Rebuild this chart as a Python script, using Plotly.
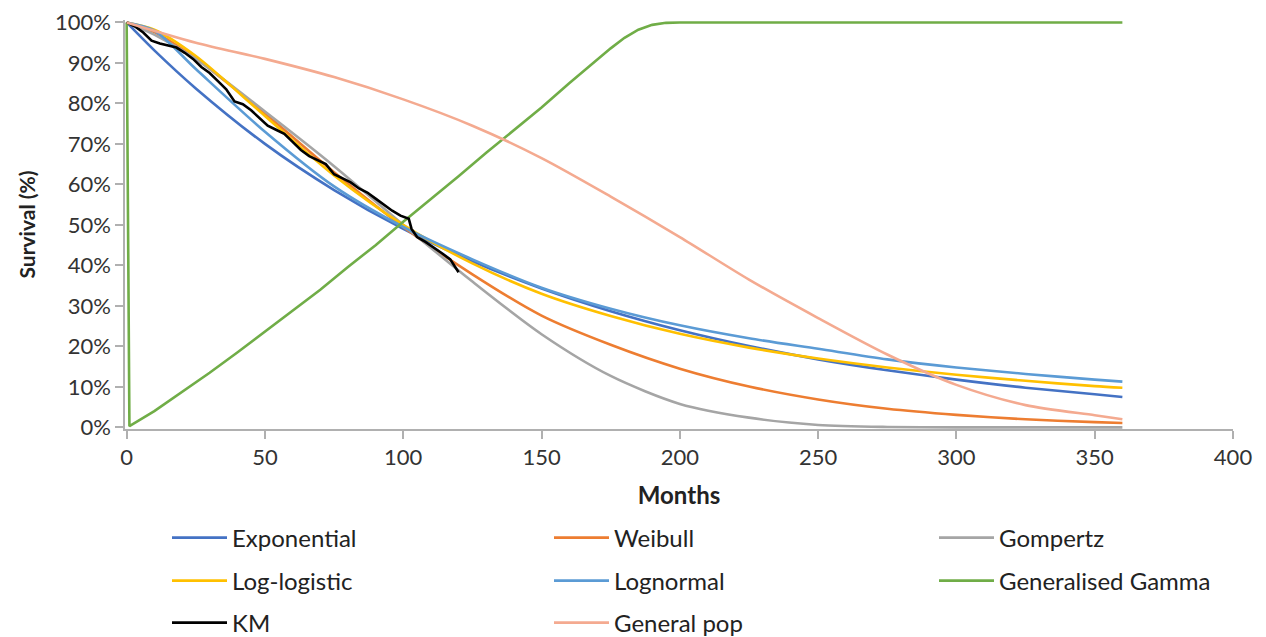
import plotly.graph_objects as go

# ---- data (survival %, months) ----
model_months = [0, 10, 25, 50, 75, 100, 125, 150, 175, 200, 225, 250, 275, 300, 325, 350, 360]
exponential = [100, 93.1, 83.7, 70.0, 58.6, 49.0, 41.0, 34.3, 28.7, 24.0, 20.1, 16.8, 14.1, 11.8, 9.8, 8.2, 7.5]
weibull = [100, 97.6, 91.1, 77.5, 63.0, 49.5, 37.8, 27.6, 20.4, 14.5, 10.1, 6.9, 4.6, 3.1, 2.0, 1.3, 1.1]
gompertz = [100, 97.0, 91.0, 78.0, 64.5, 50.0, 36.0, 23.0, 12.7, 5.8, 2.4, 0.6, 0.1, 0.0, 0.0, 0.0, 0.0]
loglogistic = [100, 98.2, 91.7, 76.9, 62.2, 50.0, 40.5, 33.0, 27.5, 23.1, 19.7, 17.0, 14.8, 13.0, 11.5, 10.2, 9.8]
lognormal = [100, 98.0, 88.5, 73.0, 59.5, 49.5, 41.5, 34.5, 29.3, 25.2, 22.0, 19.4, 16.8, 14.8, 13.2, 11.8, 11.3]

gg_months = [0, 1, 10, 20, 30, 40, 50, 60, 70, 80, 90, 100, 110, 120, 130, 140, 150, 160, 170, 175, 180, 185,
             190, 195, 200, 250, 300, 360]
gen_gamma = [100, 0.3, 4.0, 8.7, 13.5, 18.5, 23.6, 28.8, 34.0, 39.6, 45.0, 50.8, 56.3, 62.0, 67.8, 73.3, 79.0,
             85.0, 90.8, 93.6, 96.2, 98.2, 99.4, 99.9, 100, 100, 100, 100]

km_months = [0, 3, 6, 9, 12, 15, 18, 21, 24, 27, 30, 33, 36, 39, 42, 45, 48, 51, 54, 57, 60, 63, 66, 69, 72, 75, 78, 81,
             84, 87, 90, 93, 96, 99, 102, 103, 105, 108, 111, 114, 117, 120]
km = [100, 99.0, 97.5, 95.5, 94.8, 94.3, 93.8, 92.5, 91.0, 89.0, 87.5, 85.5, 83.5, 80.5, 79.8, 78.3, 76.5, 74.5, 73.5,
      72.5, 70.5, 68.5, 67.0, 66.0, 65.0, 62.5, 61.5, 60.5, 59.0, 58.0, 56.5, 55.0, 53.5, 52.3, 51.5, 49.0, 47.0, 45.8,
      44.5, 43.0, 41.5, 38.3]

pop_months = [0, 25, 50, 75, 100, 125, 150, 175, 200, 225, 250, 275, 300, 325, 350, 360]
general_pop = [100, 95.0, 91.0, 86.5, 81.0, 74.5, 66.5, 57.0, 47.0, 36.5, 27.0, 18.0, 10.5, 5.5, 3.0, 2.0]

x_ticks = [0, 50, 100, 150, 200, 250, 300, 350, 400]
y_ticks = [0, 10, 20, 30, 40, 50, 60, 70, 80, 90, 100]
y_tick_text = [f"{v}%" for v in y_ticks]

FONT = "Lato"
LW = 2.6

# figure geometry (figure pixels) used to place legend rows/columns
W, H = 1266, 637
ML, MR, MT, MB = 117, 41, 12, 216
PW = W - ML - MR
PH = H - MT - MB

def px_to_paper_x(px):
    return (px - ML) / PW

def px_to_paper_y(py):
    return (H - MB - py) / PH

col_px = [159, 541, 926]
row_px = [530, 573, 615]

series = [
    ("Exponential", model_months, exponential, "#4472C4", "spline", 0, 0),
    ("Weibull", model_months, weibull, "#ED7D31", "spline", 0, 1),
    ("Gompertz", model_months, gompertz, "#A5A5A5", "spline", 0, 2),
    ("Log-logistic", model_months, loglogistic, "#FFC000", "spline", 1, 0),
    ("Lognormal", model_months, lognormal, "#5B9BD5", "spline", 1, 1),
    ("Generalised Gamma", gg_months, gen_gamma, "#70AD47", "linear", 1, 2),
    ("KM", km_months, km, "#000000", "linear", 2, 0),
    ("General pop", pop_months, general_pop, "#F4AA90", "spline", 2, 1),
]

fig = go.Figure()
legends = {}
for i, (name, xs, ys, col, shape, r, c) in enumerate(series):
    line = dict(color=col, width=LW, shape=shape)
    if shape == "spline":
        line["smoothing"] = 0.8
    leg_id = "legend" if i == 0 else f"legend{i + 1}"
    fig.add_trace(go.Scatter(x=xs, y=ys, mode="lines", name=name, line=line,
                             legend=leg_id, showlegend=True))
    legends[leg_id] = dict(orientation="h", xanchor="left", yanchor="middle",
                           x=px_to_paper_x(col_px[c]), y=px_to_paper_y(row_px[r]),
                           itemwidth=55, font=dict(family=FONT, size=24, color="#222222"),
                           bgcolor="rgba(0,0,0,0)", borderwidth=0)

fig.update_layout(
    width=W, height=H,
    showlegend=True,
    margin=dict(l=ML, r=MR, t=MT, b=MB, autoexpand=False),
    paper_bgcolor="white", plot_bgcolor="white",
    font=dict(family=FONT, size=22, color="#333333"),
    xaxis=dict(range=[-0.6, 400], tickvals=x_ticks, showgrid=False, zeroline=False, automargin=False,
               showline=True, linecolor="#B0B0B0", linewidth=1.5,
               ticks="outside", ticklen=8, tickcolor="#B0B0B0", tickwidth=1.5,
               tickfont=dict(family=FONT, size=22, color="#333333"),
               title=dict(text="<b>Months</b>", font=dict(family=FONT, size=24, color="#222222"), standoff=18)),
    yaxis=dict(range=[-0.4, 100.6], tickvals=y_ticks, ticktext=y_tick_text, showgrid=False, zeroline=False,
               automargin=False,
               showline=True, linecolor="#B0B0B0", linewidth=1.5,
               ticks="outside", ticklen=8, tickcolor="#B0B0B0", tickwidth=1.5,
               tickfont=dict(family=FONT, size=22, color="#333333"),
               title=dict(text="<b>Survival (%)</b>", font=dict(family=FONT, size=21, color="#222222"), standoff=14)),
    **legends,
)

fig.write_html("out.html")
